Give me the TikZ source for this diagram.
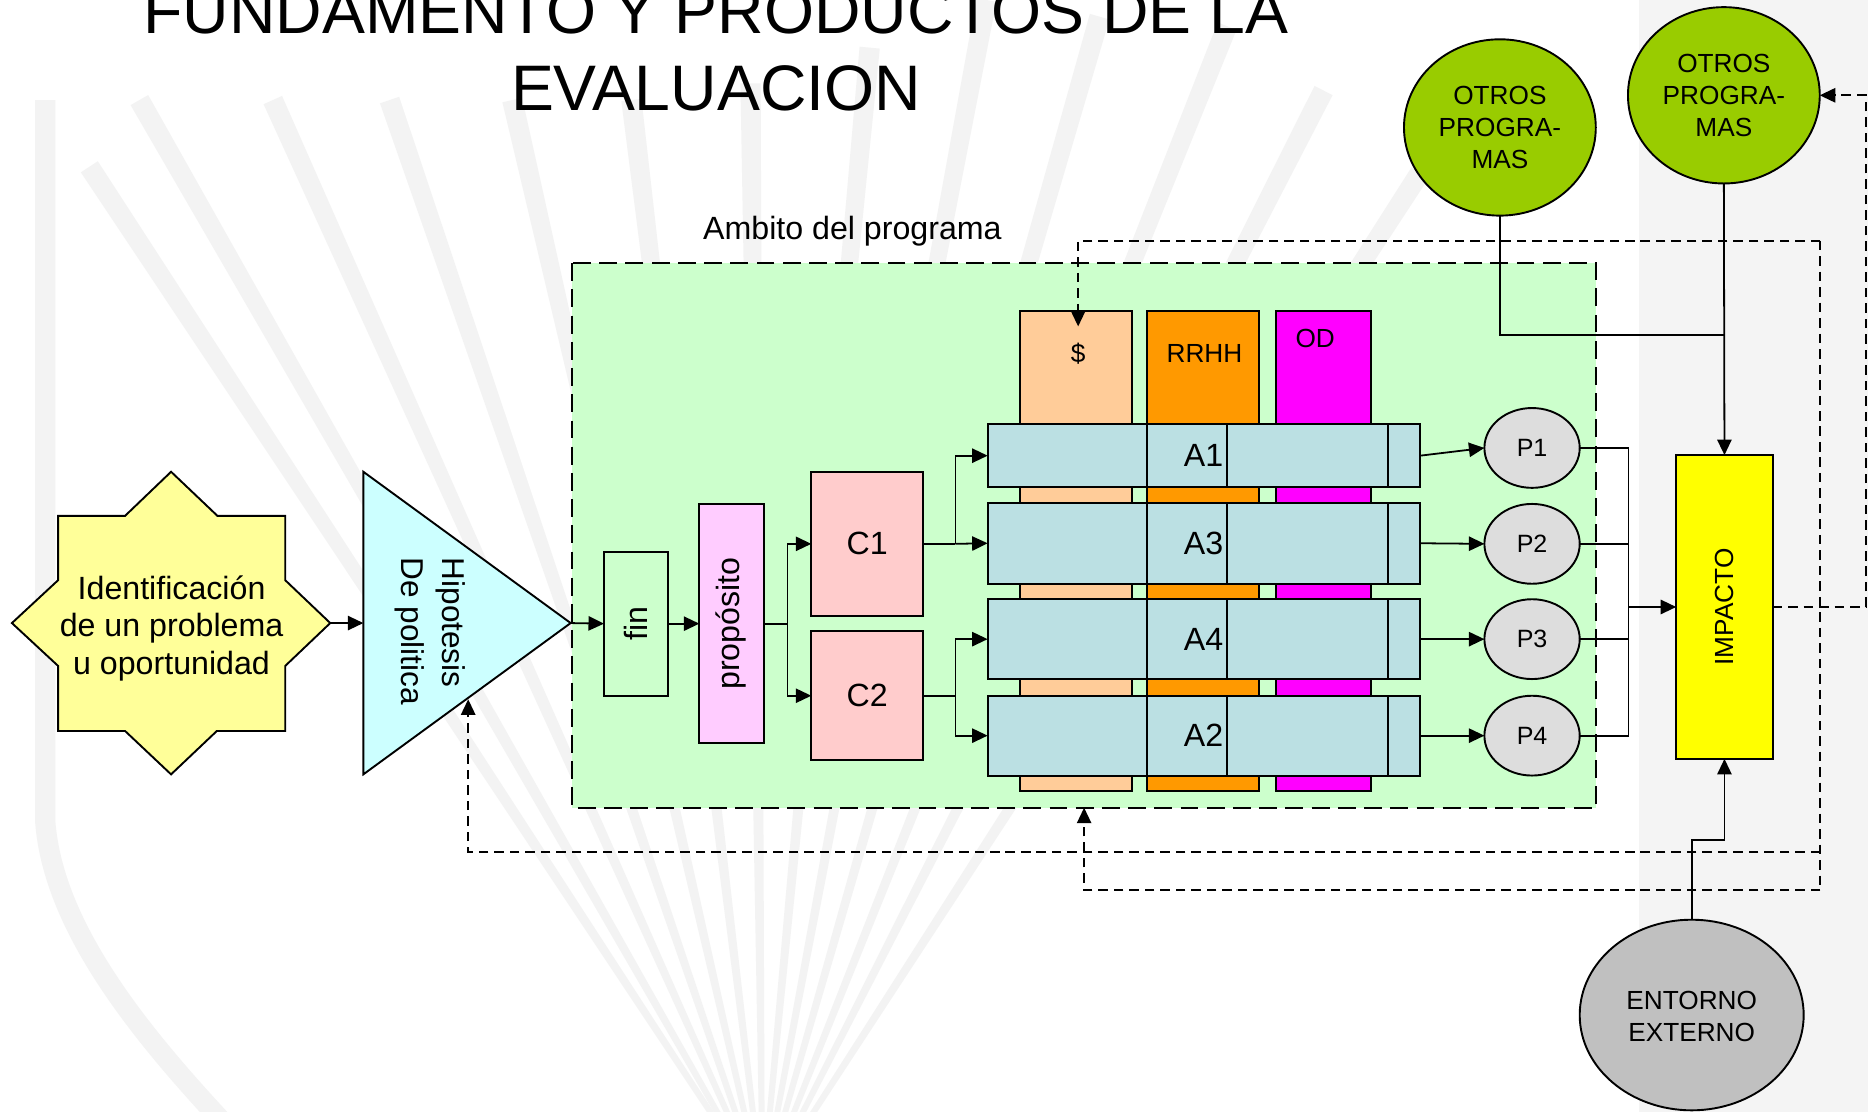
\documentclass[tikz,border=0pt]{standalone}
\usepackage{fontspec}
\setmainfont{Liberation Sans}
\usetikzlibrary{arrows.meta,calc,shapes.geometric}
\definecolor{ambit}{HTML}{CCFFCC}
\definecolor{staryel}{HTML}{FFFF99}
\definecolor{tricyan}{HTML}{CCFFFF}
\definecolor{proppink}{HTML}{FFCCFF}
\definecolor{cpink}{HTML}{FFCCCC}
\definecolor{dolcol}{HTML}{FFCC99}
\definecolor{rrhhcol}{HTML}{FF9900}
\definecolor{odcol}{HTML}{FF00FF}
\definecolor{abar}{HTML}{BBE0E3}
\definecolor{pgray}{HTML}{DDDDDD}
\definecolor{impyel}{HTML}{FFFF00}
\definecolor{otrosgreen}{HTML}{99CC00}
\definecolor{entgray}{HTML}{C0C0C0}
\definecolor{bandgray}{HTML}{F4F4F4}
\definecolor{wmgray}{HTML}{F3F3F3}
\begin{document}
\begin{tikzpicture}[x=1pt,y=-1pt]
\tikzset{
  box/.style={draw=black, line width=1.6pt, inner sep=0pt, outer sep=0pt},
  wire/.style={line width=1.5pt},
  conn/.style={line width=1.5pt, -{Triangle[length=13pt,width=12pt]}},
  fb/.style={line width=1.5pt, dash pattern=on 8pt off 5pt},
  fbA/.style={fb, -{Triangle[length=13pt,width=12pt]}},
  tA/.style={font=\fontsize{27}{31.5}\selectfont, inner sep=0pt},
  tB/.style={font=\fontsize{22}{27}\selectfont, inner sep=0pt},
  tP/.style={font=\fontsize{21}{24}\selectfont, inner sep=0pt},
  tT/.style={font=\fontsize{54}{65}\selectfont, inner sep=0pt},
  oval/.style={ellipse, draw=black, line width=1.6pt, inner sep=0pt, outer sep=0pt},
  wmray/.style={fill=wmgray, draw=none}
}
% background
\fill[white] (0,0) rectangle (1568,933);
\fill[bandgray] (1376,0) rectangle (1568,933);
% faint watermark rays (tapered towards a focus below the picture)
\begin{scope}
\clip (0,0) rectangle (1568,933);
\coordinate (wmF) at (640,1000);
\foreach \tx/\ty in {75/140,117/84,229/84,327/84,430/84,530/84,630/70,730/40,828/0,923/14,1030/22,1111/76,1192/145}{
  \fill[wmray] ($(\tx,\ty)!8.5pt!90:(wmF)$) -- ($(\tx,\ty)!8.5pt!-90:(wmF)$)
     -- ($(wmF)!2pt!90:(\tx,\ty)$) -- ($(wmF)!2pt!-90:(\tx,\ty)$) -- cycle;
}
\draw[draw=wmgray, line width=17pt] (38,84) -- (38,690) .. controls (45,780) and (120,870) .. (190,945);
\end{scope}
\useasboundingbox (0,0) rectangle (1568,933);

% title
\node[tT, anchor=base] (title1) at (601,28) {FUNDAMENTO Y PRODUCTOS DE LA};
\node[tT, anchor=base] (title2) at (601,93) {EVALUACION};

% ambit box
\node[tA, anchor=base west] (ambitlab) at (590,201) {Ambito del programa};
\draw[fill=ambit, line width=1.8pt, dash pattern=on 15pt off 7pt] (480,221) rectangle (1340,678);

% star
\draw[fill=staryel, line width=1.6pt] (143.6,396) -- (182.5,433) -- (239.4,433) -- (239.4,487) -- (277.2,523)
  -- (239.4,559) -- (239.4,613.6) -- (182,613.6) -- (143.6,650) -- (105,613.6) -- (48.8,613.6)
  -- (48.8,559) -- (10,523) -- (48.8,487) -- (48.8,433) -- (105,433) -- cycle;
\coordinate (starE) at (277.2,523);
\node[tA, align=center] (star) at (144,527.5) {Identificación\\de un problema\\u oportunidad};

% triangle
\draw[fill=tricyan, line width=1.6pt] (305,396) -- (479,523) -- (305,650) -- cycle;
\coordinate (triW) at (305,523);
\coordinate (triApex) at (479,523);
\coordinate (triLow) at (393,587);
\node[tA, align=left, rotate=-90, font=\fontsize{26.5}{34}\selectfont] (hip) at (361,530) {Hipotesis\\De politica};

% fin, proposito, C1, C2
\node[box, fill=ambit, minimum width=54, minimum height=121] (fin) at (534,523.5) {};
\node[tA, rotate=90] (finlab) at (fin.center) {fin};
\node[box, fill=proppink, minimum width=54, minimum height=201] (prop) at (614,523.5) {};
\node[tA, rotate=90] (proplab) at (prop.center) {propósito};
\node[box, fill=cpink, minimum width=94, minimum height=121] (C1) at (728,456.5) {};
\node[tA] (C1lab) at (C1.center) {C1};
\node[box, fill=cpink, minimum width=94, minimum height=108] (C2) at (728,584) {};
\node[tA] (C2lab) at (C2.center) {C2};

% resource columns
\node[box, fill=dolcol, minimum width=94, minimum height=403, anchor=north west] (dol) at (856,261) {};
\node[box, fill=rrhhcol, minimum width=94, minimum height=403, anchor=north west] (rrhh) at (963,261) {};
\node[box, fill=odcol, minimum width=80, minimum height=403, anchor=north west] (od) at (1071,261) {};
\node[tB] (dollab) at (905,297) {\$};
\node[tB] (rrhhlab) at (1011,297) {RRHH};
\node[tB] (odlab) at (1104,284) {OD};

% activity bars
\foreach \n/\t/\b in {A1/356/409,A3/422/490,A4/503/570,A2/584/651}{
  \node[box, fill=abar, minimum width=363, minimum height={\b-\t}, anchor=north west] (\n) at (829,\t) {};
  \foreach \x in {963,1030,1165}{
    \draw[line width=1.6pt] (\x,\t) -- (\x,\b);
  }
  \node[tA, anchor=east] (\n-lab) at (1027,{(\t+\b)/2}) {\n};
}

% products
\node[oval, fill=pgray, minimum width=80, minimum height=67] (P1) at (1286,376) {};
\node[oval, fill=pgray, minimum width=80, minimum height=67] (P2) at (1286,456.5) {};
\node[oval, fill=pgray, minimum width=80, minimum height=67] (P3) at (1286,536.5) {};
\node[oval, fill=pgray, minimum width=80, minimum height=67] (P4) at (1286,617.5) {};
\foreach \p in {P1,P2,P3,P4}{\node[tP] (\p-lab) at (\p.center) {\p};}

% impacto
\node[box, fill=impyel, minimum width=81, minimum height=255] (IMP) at (1447.5,509.5) {};
\node[tB, rotate=90] (IMPlab) at (IMP.center) {IMPACTO};

% otros programas, entorno
\node[oval, fill=otrosgreen, minimum width=161, minimum height=148] (O1) at (1259,107) {};
\node[tB, align=center] (O1lab) at (1259,107) {OTROS\\PROGRA-\\MAS};
\node[oval, fill=otrosgreen, minimum width=161, minimum height=148] (O2) at (1447,80) {};
\node[tB, align=center] (O2lab) at (1447,80) {OTROS\\PROGRA-\\MAS};
\node[oval, fill=entgray, minimum width=188, minimum height=160] (EN) at (1420,852) {};
\node[tB, align=center] (ENlab) at (1420,853) {ENTORNO\\EXTERNO};

% solid connectors
\draw[conn] (starE) -- (triW);
\draw[conn] (triApex) -- (fin.west);
\draw[conn] (fin.east) -- (prop.west);
\coordinate (pj) at (661,523.5);
\draw[wire] (prop.east) -- (pj);
\draw[conn] (pj) |- (C1.west);
\draw[conn] (pj) |- (C2.west);
\coordinate (cj1) at (802,456.5);
\coordinate (cj2) at (802,584);
\draw[wire] (C1.east) -- (cj1);
\draw[conn] (cj1) -- (A3.west);
\draw[conn] (cj1) |- (A1.west);
\draw[wire] (C2.east) -- (cj2);
\draw[conn] (cj2) |- (A4.west);
\draw[conn] (cj2) |- (A2.west);
\draw[conn] (A1.east) -- (P1.west);
\draw[conn] (A3.east) -- (P2.west);
\draw[conn] (A4.east) -- (P3.west);
\draw[conn] (A2.east) -- (P4.west);
\coordinate (pc) at (1367,509.5);
\draw[wire] (P1.east) -| (1367,376) -- (1367,617.5) -- (P4.east);
\draw[wire] (P2.east) -- (1367,456.5);
\draw[wire] (P3.east) -- (1367,536.5);
\draw[conn] (pc) -- (IMP.west);
\coordinate (oj) at (1447,281);
\draw[wire] (O1.south) |- (oj);
\draw[conn] (O2.south) -- (IMP.north);
\coordinate (ej) at (1420,705);
\draw[conn] (EN.north) -- (ej) -| (IMP.south);

% feedback dashed lines
\coordinate (fbR) at (1566,509.5);
\draw[fbA] (IMP.east) -- (fbR) |- (O2.east);
\coordinate (loopTop) at (1528,202);
\coordinate (loopMid) at (1528,715);
\coordinate (loopBot) at (1528,747);
\coordinate (dolTip) at (905,274);
\coordinate (ambTip) at (910,678);
\draw[fb] (loopTop) -- (loopBot);
\draw[fbA] (loopTop) -| (dolTip);
\draw[fbA] (loopMid) -| (triLow);
\draw[fbA] (loopBot) -| (ambTip);
\end{tikzpicture}
\end{document}
